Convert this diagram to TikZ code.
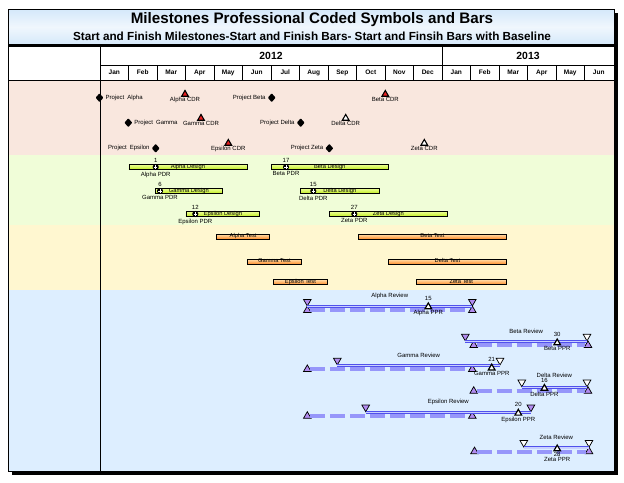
\documentclass[tikz,border=0pt]{standalone}
\usepackage{fontspec}
\setmainfont{Liberation Sans}
\usetikzlibrary{positioning,shapes.geometric}

\definecolor{pinkband}{RGB}{249,231,222}
\definecolor{greenband}{RGB}{240,253,216}
\definecolor{yellowband}{RGB}{255,247,208}
\definecolor{blueband}{RGB}{221,238,255}
\definecolor{titleblue}{RGB}{212,232,250}
\definecolor{cdrred}{RGB}{232,32,32}
\definecolor{limetop}{RGB}{236,255,150}
\definecolor{limebot}{RGB}{192,236,30}
\definecolor{peachtop}{RGB}{255,222,172}
\definecolor{orangebot}{RGB}{255,140,40}
\definecolor{revpurple}{RGB}{178,140,240}
\definecolor{revblue}{RGB}{80,80,236}
\definecolor{revlight}{RGB}{200,208,255}
\definecolor{revdash}{RGB}{150,150,250}

\begin{document}
\begin{tikzpicture}[
        x=0.75pt, y=-0.75pt,
        lbl/.style={inner sep=0pt, font=\fontsize{4.5}{5}\selectfont},
        monthlbl/.style={inner sep=0pt, font=\fontsize{4.9}{5}\selectfont\bfseries},
        yearlbl/.style={inner sep=0pt, font=\fontsize{7.8}{8}\selectfont\bfseries},
        projmark/.style={
            diamond, fill=black, inner sep=0pt, minimum width=6pt, minimum height=6.8pt,
            rounded corners=0.5pt
        },
        cdrmark/.style={
            regular polygon, regular polygon sides=3, draw=black, line width=0.8pt,
            fill=#1, inner sep=0pt, minimum size=5.8pt
        },
        pdrmark/.style={
            circle, fill=black, inner sep=0pt, minimum size=4.6pt,
            path picture={\draw[white, line width=0.55pt]
                ([xshift=-1.3pt]path picture bounding box.center) -- ([xshift=1.3pt]path picture bounding box.center)
                ([yshift=-1.3pt]path picture bounding box.center) -- ([yshift=1.3pt]path picture bounding box.center);}
        },
        designbar/.style={
            anchor=west, draw=black, line width=0.65pt, top color=limetop, bottom color=limebot,
            minimum width=#1*0.75pt, minimum height=3.8pt, inner sep=0pt,
            text height=2.4pt, text depth=0.5pt, font=\fontsize{4.3}{5}\selectfont
        },
        testbar/.style={designbar=#1, top color=peachtop, bottom color=orangebot},
        startmark/.style={
            regular polygon, regular polygon sides=3, shape border rotate=180, draw=black,
            line width=0.55pt, fill=#1, inner sep=0pt, minimum size=6.6pt
        },
        basemark/.style={
            regular polygon, regular polygon sides=3, draw=black, line width=0.55pt,
            fill=revpurple, inner sep=0pt, minimum size=6.6pt
        },
        pprmark/.style={
            regular polygon, regular polygon sides=3, draw=black, line width=0.9pt,
            fill=white, inner sep=0pt, minimum size=5.8pt
        },
        curbar/.style={draw=revblue, line width=0.55pt, double=revlight, double distance=1.1pt},
        basebar/.style={revdash, line width=3pt, dash pattern=on 11.25pt off 3.75pt},
        grid/.style={black, line width=0.5pt}
    ]
    \useasboundingbox (0,0) rectangle (624,482);

    % --- Frame and bands ---
    \fill[black] (12,13) rectangle (618,475);
    \fill[white] (8,9) rectangle (614,471);
    \shade[top color=titleblue, bottom color=titleblue, middle color=titleblue!35!white] (8,9) rectangle (614,45);
    \fill[pinkband] (8,80) rectangle (614,155);
    \fill[greenband] (8,155) rectangle (614,225);
    \fill[yellowband] (8,225) rectangle (614,290);
    \fill[blueband] (8,290) rectangle (614,471);
    \draw[line width=0.6pt] (8,9) rectangle (614,471);
    \draw[line width=2.2pt] (8,45.5) -- (614,45.5);

    % --- Title ---
    \node[font=\fontsize{11.4}{13}\selectfont\bfseries] (title) at (312,20)
    {Milestones Professional Coded Symbols and Bars};
    \node[font=\fontsize{8.8}{10}\selectfont\bfseries] (subtitle) at (312,36)
    {Start and Finish Milestones-Start and Finish Bars- Start and Finsih Bars with Baseline};

    % --- Time scale ---
    \draw[grid] (100,47) -- (100,471);
    \draw[grid] (100,65) -- (614,65);
    \draw[grid] (8,80) -- (614,80);
    \draw[grid] (442,47) -- (442,80);
    \foreach \k in {1,...,17}
        \draw[grid] (100+\k*28.5,65) -- (100+\k*28.5,80);
    \node[yearlbl] (y12) at (271,56) {2012};
    \node[yearlbl] (y13) at (528,56) {2013};
    \foreach \mon [count=\i from 0] in {Jan,Feb,Mar,Apr,May,Jun,Jul,Aug,Sep,Oct,Nov,Dec,Jan,Feb,Mar,Apr,May,Jun}
        \node[monthlbl] (mon\i) at (114.25+\i*28.5,72.5) {\mon};

    % --- Projects and CDR milestones ---
    \node[projmark] (pa) at (99.5,97.7) {};
    \node[lbl, right=1.2pt of pa] (pal) {Project\enspace Alpha};
    \node[projmark] (pb) at (271.7,97.7) {};
    \node[lbl, left=1.2pt of pb] (pbl) {Project Beta};
    \node[projmark] (pg) at (128.3,122.7) {};
    \node[lbl, right=1.2pt of pg] (pgl) {Project\enspace Gamma};
    \node[projmark] (pd) at (300.7,122.7) {};
    \node[lbl, left=1.2pt of pd] (pdl) {Project Delta};
    \node[projmark] (pe) at (155.7,148.3) {};
    \node[lbl, left=1.2pt of pe] (pel) {Project\enspace Epsilon};
    \node[projmark] (pz) at (329.3,148.3) {};
    \node[lbl, left=1.2pt of pz] (pzl) {Project Zeta};

    \node[cdrmark=cdrred] (acdr) at (185,94.3) {};
    \node[lbl, below=0.4pt of acdr] (acdrl) {Alpha CDR};
    \node[cdrmark=cdrred] (bcdr) at (385.3,94.3) {};
    \node[lbl, below=0.4pt of bcdr] (bcdrl) {Beta CDR};
    \node[cdrmark=cdrred] (gcdr) at (201,118.3) {};
    \node[lbl, below=0.4pt of gcdr] (gcdrl) {Gamma CDR};
    \node[cdrmark=white] (dcdr) at (345.7,118.3) {};
    \node[lbl, below=0.4pt of dcdr] (dcdrl) {Delta CDR};
    \node[cdrmark=cdrred] (ecdr) at (228.3,143.3) {};
    \node[lbl, below=0.4pt of ecdr] (ecdrl) {Epsilon CDR};
    \node[cdrmark=white] (zcdr) at (424.3,143.3) {};
    \node[lbl, below=0.4pt of zcdr] (zcdrl) {Zeta CDR};

    % --- Design bars with PDR ---
    \node[designbar=118] (ades) at (128.5,167) {Alpha Design};
    \node[pdrmark] (apdr) at (155.7,167) {};
    \node[lbl, above=1pt of apdr] (apdrn) {1};
    \node[lbl, below=0.8pt of apdr] (apdrl) {Alpha PDR};

    \node[designbar=116.7] (bdes) at (271,167) {Beta Design};
    \node[pdrmark] (bpdr) at (286,167) {};
    \node[lbl, above=1pt of bpdr] (bpdrn) {17};
    \node[lbl, below=0.8pt of bpdr] (bpdrl) {Beta PDR};

    \node[designbar=66.7] (gdes) at (155,191) {Gamma Design};
    \node[pdrmark] (gpdr) at (160,191) {};
    \node[lbl, above=1pt of gpdr] (gpdrn) {6};
    \node[lbl, below=0.8pt of gpdr] (gpdrl) {Gamma PDR};

    \node[designbar=78.7] (ddes) at (300,191) {Delta Design};
    \node[pdrmark] (dpdr) at (313.3,191) {};
    \node[lbl, above=1pt of dpdr] (dpdrn) {15};
    \node[lbl, below=0.8pt of dpdr] (dpdrl) {Delta PDR};

    \node[designbar=73.8] (edes) at (185.5,214) {Epsilon Design};
    \node[pdrmark] (epdr) at (195.3,214) {};
    \node[lbl, above=1pt of epdr] (epdrn) {12};
    \node[lbl, below=0.8pt of epdr] (epdrl) {Epsilon PDR};

    \node[designbar=117.7] (zdes) at (329,214) {Zeta Design};
    \node[pdrmark] (zpdr) at (354.3,214) {};
    \node[lbl, above=1pt of zpdr] (zpdrn) {27};
    \node[lbl, below=0.8pt of zpdr] (zpdrl) {Zeta PDR};

    % --- Test bars ---
    \node[testbar=53.3] (ates) at (216,236.7) {Alpha Test};
    \node[testbar=147.4] (btes) at (358.3,236.7) {Beta Test};
    \node[testbar=53.4] (gtes) at (247.3,261.7) {Gamma Test};
    \node[testbar=117.4] (dtes) at (388.3,261.7) {Delta Test};
    \node[testbar=53.4] (etes) at (273.3,282) {Epsilon Test};
    \node[testbar=89.7] (ztes) at (416,282) {Zeta Test};

    % --- Reviews with baseline ---
    % Alpha
    \node[startmark=revpurple] (acs) at (307.3,301.6) {};
    \node[startmark=revpurple] (ace) at (472.3,301.6) {};
    \node[basemark] (abs) at (307.3,310.4) {};
    \node[basemark] (abe) at (472.3,310.4) {};
    \draw[basebar] (abs) -- (abe);
    \draw[curbar] (acs.corner 1) -- (ace.corner 1);
    \node[lbl] (arev) at (389.8,296) {Alpha Review};
    \node[pprmark] (appr) at (428.3,306.8) {};
    \node[lbl, above=1pt of appr] (apprn) {15};
    \node[lbl, below=0.6pt of appr] (apprl) {Alpha PPR};

    % Beta
    \node[startmark=revpurple] (bcs) at (465.3,336.5) {};
    \node[startmark=white] (bce) at (587,336.5) {};
    \node[basemark] (bbs) at (473.7,345.3) {};
    \node[basemark] (bbe) at (588,345.3) {};
    \draw[basebar] (bbs) -- (bbe);
    \draw[curbar] (bcs.corner 1) -- (bce.corner 1);
    \node[lbl] (brev) at (526.2,331) {Beta Review};
    \node[pprmark] (bppr) at (557.2,342.9) {};
    \node[lbl, above=1pt of bppr] (bpprn) {30};
    \node[lbl, below=0.6pt of bppr] (bpprl) {Beta PPR};

    % Gamma
    \node[startmark=revpurple] (gcs) at (337.3,360.5) {};
    \node[startmark=white] (gce) at (500,360.5) {};
    \node[basemark] (gbs) at (307.3,369.3) {};
    \node[basemark] (gbe) at (472.3,369.3) {};
    \draw[basebar] (gbs) -- (gbe);
    \draw[curbar] (gcs.corner 1) -- (gce.corner 1);
    \node[lbl] (grev) at (418.7,355.5) {Gamma Review};
    \node[pprmark] (gppr) at (491.7,368) {};
    \node[lbl, above=1pt of gppr] (gpprn) {21};
    \node[lbl, below=0.6pt of gppr] (gpprl) {Gamma PPR};

    % Delta
    \node[startmark=white] (dcs) at (521.8,382.3) {};
    \node[startmark=white] (dce) at (587,382.3) {};
    \node[basemark] (dbs) at (473.7,391.1) {};
    \node[basemark] (dbe) at (588,391.1) {};
    \draw[basebar] (dbs) -- (dbe);
    \draw[curbar] (dcs.corner 1) -- (dce.corner 1);
    \node[lbl] (drev) at (554.4,375.2) {Delta Review};
    \node[pprmark] (dppr) at (544.4,388.4) {};
    \node[lbl, above=0.3pt of dppr] (dpprn) {16};
    \node[lbl, below=0.6pt of dppr] (dpprl) {Delta PPR};

    % Epsilon
    \node[startmark=revpurple] (ecs) at (365.7,407.3) {};
    \node[startmark=revpurple] (ece) at (530.9,407.3) {};
    \node[basemark] (ebs) at (307.3,416.1) {};
    \node[basemark] (ebe) at (472.3,416.1) {};
    \draw[basebar] (ebs) -- (ebe);
    \draw[curbar] (ecs.corner 1) -- (ece.corner 1);
    \node[lbl] (erev) at (448.3,402) {Epsilon Review};
    \node[pprmark] (eppr) at (518.3,413.2) {};
    \node[lbl, above=1pt of eppr] (epprn) {20};
    \node[lbl, below=0.6pt of eppr] (epprl) {Epsilon PPR};

    % Zeta
    \node[startmark=white] (zcs) at (523.8,442.7) {};
    \node[startmark=white] (zce) at (589,442.7) {};
    \node[basemark] (zbs) at (474.5,451.5) {};
    \node[basemark] (zbe) at (589,451.5) {};
    \draw[basebar] (zbs) -- (zbe);
    \draw[curbar] (zcs.corner 1) -- (zce.corner 1);
    \node[lbl] (zrev) at (556.4,437) {Zeta Review};
    \node[pprmark] (zppr) at (557.2,448.9) {};
    \node[lbl, below=0.4pt of zppr] (zpprn) {28};
    \node[lbl, below=0.4pt of zpprn] (zpprl) {Zeta PPR};

\end{tikzpicture}
\end{document}
